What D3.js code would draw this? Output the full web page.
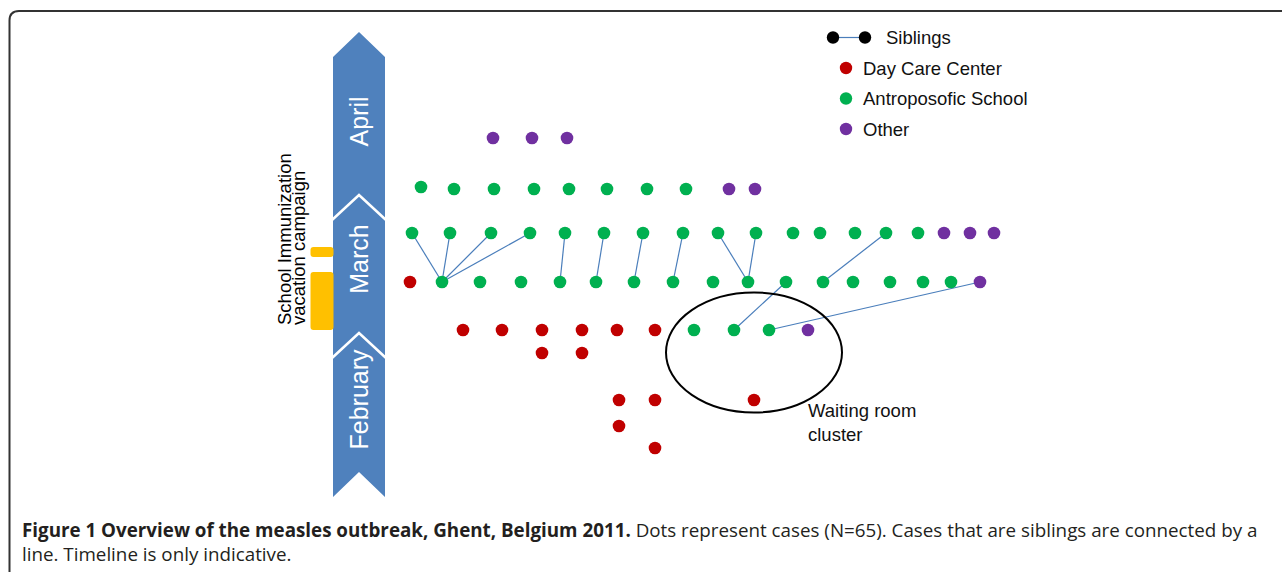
<!DOCTYPE html>
<html><head><meta charset="utf-8">
<script src="https://cdn.jsdelivr.net/npm/d3@7"></script>
<style>html,body{margin:0;padding:0;background:#fff;overflow:hidden}svg{display:block}</style>
</head><body>
<svg id="chart" width="1282" height="572"></svg>
<script>
// ---------------- DATA ----------------
// timeline units run upward from the start of February (0)
const months = ["February", "March", "April"];
const monthStart = [0, 139, 277];
const monthEnd = [139, 277, 440];
const campaignPeriods = [[240, 250], [167, 225]];
const campaignLabel = ["School Immunization", "vacation campaign"];

const categories = ["Day Care Center", "Antroposofic School", "Other"];
// cases: [position along row, timeline units]
const dayCareCases = [
  [10, 215],
  [63, 167], [102, 167], [142, 167], [182, 167], [217, 167], [255, 167],
  [142, 144], [182, 144],
  [219, 97], [255, 97], [354, 97],
  [219, 71],
  [255, 49]
];
const antroposoficCases = [
  [21, 310], [54, 308], [94, 308], [134, 308], [169, 308], [207, 308], [247, 308], [286, 308],
  [12, 264], [50, 264], [91, 264], [130, 264], [165, 264], [204, 264], [243, 264], [283, 264],
  [318, 264], [356, 264], [393, 264], [420, 264], [455, 264], [486, 264], [518, 264],
  [42, 215], [80, 215], [121, 215], [160, 215], [196, 215], [234, 215], [273, 215], [313, 215],
  [348, 215], [386, 215], [423, 215], [453, 215], [490, 215], [523, 215], [551, 215],
  [294, 167], [334, 167], [369, 167]
];
const otherCases = [
  [93, 359], [132, 359], [167, 359],
  [329, 308], [355, 308],
  [544, 264], [570, 264], [594, 264],
  [580, 215],
  [408, 167]
];
// sibling links: [case A, case B]
const siblingLinks = [
  [[12, 264], [42, 215]], [[50, 264], [42, 215]], [[91, 264], [42, 215]], [[130, 264], [42, 215]],
  [[165, 264], [160, 215]], [[204, 264], [196, 215]], [[243, 264], [234, 215]], [[283, 264], [273, 215]],
  [[318, 264], [348, 215]], [[356, 264], [348, 215]], [[386, 215], [334, 167]],
  [[486, 264], [423, 215]], [[580, 215], [369, 167]]
];
const waitingRoomCluster = { cx: 354, cy: 144.5, rx: 88, ry: 60 };
const clusterLabel = ["Waiting room", "cluster"];
const captionBold = "Figure 1 Overview of the measles outbreak, Ghent, Belgium 2011.";
const captionText1 = " Dots represent cases (N=65). Cases that are siblings are connected by a";
const captionText2 = "line. Timeline is only indicative.";

// ---------------- STYLE / LAYOUT ----------------
const catColor = { "Day Care Center": "#c00000", "Antroposofic School": "#00b050", "Other": "#7030a0" };
const linkColor = "#4a7ebb";
const arrowColor = "#4f81bd";
const FONT = "'Liberation Sans', Arial, sans-serif";

const svg = d3.select("#chart");
const x = d3.scaleLinear().domain([0, 600]).range([400, 1000]);
const y = d3.scaleLinear().domain([0, 466]).range([497, 31]);

// frame
svg.append("path")
  .attr("d", "M1300,11 H19 Q9.5,11 9.5,20.5 V600")
  .attr("fill", "none").attr("stroke", "#333").attr("stroke-width", 2);

// timeline arrow
const aL = 333, aR = 385, aC = (aL + aR) / 2, depth = 25;
const tl = svg.append("g");
months.forEach((m, i) => {
  const b = y(monthStart[i]), t = y(monthEnd[i]);
  tl.append("path")
    .attr("d", `M${aL},${b} L${aC},${b - depth} L${aR},${b} L${aR},${t} L${aC},${t - depth} L${aL},${t} Z`)
    .attr("fill", arrowColor);
});
months.forEach((m, i) => {
  if (i === 0) return;
  const b = y(monthStart[i]);
  tl.append("path")
    .attr("d", `M${aL - 1},${b} L${aC},${b - depth} L${aR + 1},${b}`)
    .attr("fill", "none").attr("stroke", "#fff").attr("stroke-width", 2.5);
});
const labelShift = [-3, -5, 8];
months.forEach((m, i) => {
  const cy = ((y(monthStart[i]) - depth) + (y(monthEnd[i]) - depth)) / 2 + labelShift[i];
  tl.append("text")
    .attr("transform", `translate(${aC},${cy}) rotate(-90)`)
    .attr("y", 8.5)
    .attr("text-anchor", "middle")
    .attr("font-family", FONT).attr("font-size", 25).attr("fill", "#fff")
    .text(m);
});

// campaign bars
svg.append("g").selectAll("rect").data(campaignPeriods).join("rect")
  .attr("x", 310.5).attr("width", 23)
  .attr("y", d => y(d[1])).attr("height", d => y(d[0]) - y(d[1]))
  .attr("rx", 3).attr("fill", "#ffc000");
svg.append("g").selectAll("text").data(campaignLabel).join("text")
  .attr("transform", (d, i) => `translate(${291 + i * 14},325) rotate(-90)`)
  .attr("font-family", FONT).attr("font-size", 18.5).attr("fill", "#000")
  .text(d => d);

// sibling links
svg.append("g").selectAll("line").data(siblingLinks).join("line")
  .attr("x1", d => x(d[0][0])).attr("y1", d => y(d[0][1]))
  .attr("x2", d => x(d[1][0])).attr("y2", d => y(d[1][1]))
  .attr("stroke", linkColor).attr("stroke-width", 1.2);

// cases
const allCases = [
  ...dayCareCases.map(d => ({ p: d, c: categories[0] })),
  ...antroposoficCases.map(d => ({ p: d, c: categories[1] })),
  ...otherCases.map(d => ({ p: d, c: categories[2] }))
];
svg.append("g").selectAll("circle").data(allCases).join("circle")
  .attr("cx", d => x(d.p[0])).attr("cy", d => y(d.p[1])).attr("r", 6.3)
  .attr("fill", d => catColor[d.c]);

// waiting room ellipse
svg.append("ellipse")
  .attr("cx", x(waitingRoomCluster.cx)).attr("cy", y(waitingRoomCluster.cy))
  .attr("rx", x(waitingRoomCluster.cx + waitingRoomCluster.rx) - x(waitingRoomCluster.cx))
  .attr("ry", y(waitingRoomCluster.cy) - y(waitingRoomCluster.cy + waitingRoomCluster.ry))
  .attr("fill", "none").attr("stroke", "#000").attr("stroke-width", 2);
svg.append("g").selectAll("text").data(clusterLabel).join("text")
  .attr("x", 808).attr("y", (d, i) => 417 + i * 23.5)
  .attr("font-family", FONT).attr("font-size", 18.5).attr("fill", "#111")
  .text(d => d);

// legend
const lg = svg.append("g");
lg.append("line").attr("x1", 833).attr("x2", 865).attr("y1", 37.5).attr("y2", 37.5)
  .attr("stroke", linkColor).attr("stroke-width", 1.2);
[833, 865].forEach(cx => lg.append("circle").attr("cx", cx).attr("cy", 37.5).attr("r", 6.2).attr("fill", "#000"));
lg.append("text").attr("x", 886).attr("y", 44).attr("font-family", FONT).attr("font-size", 18.5)
  .attr("fill", "#111").text("Siblings");
categories.forEach((c, i) => {
  const cy = 68 + i * 30.5;
  lg.append("circle").attr("cx", 846).attr("cy", cy).attr("r", 6.2).attr("fill", catColor[c]);
  lg.append("text").attr("x", 863).attr("y", cy + 6.5).attr("font-family", FONT).attr("font-size", 18.5)
    .attr("fill", "#111").text(c);
});

// caption
const capFont = "'Open Sans', 'Noto Sans', sans-serif";
const cap1 = svg.append("text").attr("x", 22).attr("y", 537)
  .attr("font-family", capFont).attr("font-size", 16).attr("fill", "#231f20");
cap1.append("tspan").attr("font-weight", "bold").text(captionBold);
cap1.append("tspan").text(captionText1);
const cap2 = svg.append("text").attr("x", 22).attr("y", 561)
  .attr("font-family", capFont).attr("font-size", 16).attr("fill", "#231f20").text(captionText2);
const w = cap1.node().getComputedTextLength();
const fs = 16 * 1236 / w;
cap1.attr("font-size", fs); cap2.attr("font-size", fs);
</script>
</body></html>
